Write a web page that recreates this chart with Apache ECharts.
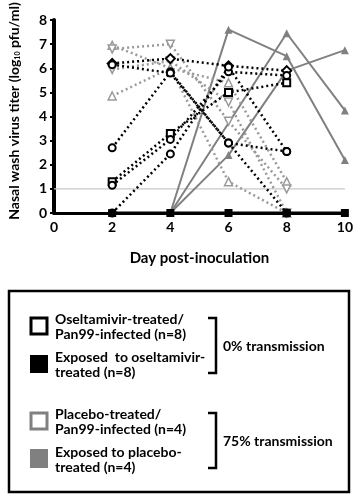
<!DOCTYPE html>
<html>
<head>
<meta charset="utf-8">
<script src="https://cdn.jsdelivr.net/npm/echarts@6/dist/echarts.min.js"></script>
<style>
  html, body { margin: 0; padding: 0; background: #fff; }
  #chart { width: 356px; height: 495px; }
</style>
</head>
<body>
<div id="chart"></div>
<script>
// days sampled
const days = [2, 4, 6, 8, 10];
const xTicks = [0, 2, 4, 6, 8, 10];

// oseltamivir-treated / Pan99-infected (dotted black, open markers)
const treated1 = [6.2, 6.4, 6.1, 5.9, null];
const treated2 = [2.7, 5.85, 2.9, 2.55, null];
const treated3 = [6.15, 5.8, 2.9, 0, null];
const treated4 = [1.3, 3.3, 5.0, 5.4, null];
const treated5 = [1.15, 3.05, 5.85, 5.7, null];
const treated6 = [0, 2.45, 6.05, 2.55, null];

// exposed to oseltamivir-treated (all negative)
const exposedOsel = [0, 0, 0, 0, 0];

// placebo-treated / Pan99-infected (dotted grey, triangles)
const placebo1 = [6.95, 6.0, 5.4, 1.3, null];
const placebo2 = [6.8, 7.0, 3.8, 1.0, null];
const placebo3 = [5.95, 6.3, 4.6, 0, null];
const placebo4 = [4.85, 6.0, 1.3, 0, null];

// exposed to placebo-treated (solid grey)
const exposedPlc1 = [null, 0, 7.6, 6.5, 2.2];
const exposedPlc2 = [null, 0, null, 7.45, 4.25];
const exposedPlc3 = [null, 0, 2.4, 5.9, 6.75];

const detectionLimit = 1;

const FONT = 'Lato';
const BLACK = '#000';
const GREY = '#808080';
const LGREY = '#9a9a9a';

const toPoints = (arr, hideZeroAt4) =>
  days.map((d, i) => {
    if (arr[i] === null) return [d, null];
    if (hideZeroAt4 && d === 4 && arr[i] === 0) return { value: [d, 0], symbol: 'none' };
    return [d, arr[i]];
  });

const treatedSeries = (data, symbol) => ({
  type: 'line',
  data: toPoints(data),
  symbol,
  symbolSize: symbol === 'diamond' ? 9 : 7,
  z: 4,
  lineStyle: { color: BLACK, width: 2.5, type: [2, 3] },
  itemStyle: { color: '#fff', borderColor: BLACK, borderWidth: 2 }
});

const placeboSeries = (data, rotate) => ({
  type: 'line',
  data: toPoints(data),
  symbol: 'triangle',
  symbolRotate: rotate,
  symbolSize: 8,
  z: 3,
  lineStyle: { color: LGREY, width: 2.5, type: [2, 3] },
  itemStyle: { color: '#fff', borderColor: LGREY, borderWidth: 1.5 }
});

const exposedPlcSeries = (data) => ({
  type: 'line',
  data: toPoints(data, true),
  connectNulls: true,
  symbol: 'triangle',
  symbolSize: 8,
  z: 2,
  lineStyle: { color: GREY, width: 2 },
  itemStyle: { color: GREY }
});

const legendText = {
  fontFamily: FONT,
  fontWeight: 'bold',
  fontSize: 14,
  fill: '#000',
  lineHeight: 15
};

const option = {
  animation: false,
  grid: { left: 54, right: 8, top: 20, bottom: 282 },
  xAxis: {
    type: 'value',
    min: 0,
    max: 10,
    interval: 2,
    name: 'Day post-inoculation',
    nameLocation: 'middle',
    nameGap: 38,
    nameTextStyle: { fontFamily: FONT, fontWeight: 'bold', fontSize: 15, color: '#000' },
    axisLine: { lineStyle: { color: BLACK, width: 3 } },
    axisTick: { show: false },
    splitLine: { show: false },
    axisLabel: {
      fontFamily: FONT, fontWeight: 'bold', fontSize: 14, color: '#000', margin: 7,
      showMaxLabel: true,
      formatter: (v) => (xTicks.includes(v) ? String(v) : '')
    }
  },
  yAxis: {
    type: 'value',
    min: 0,
    max: 8,
    interval: 1,
    axisLine: { show: true, lineStyle: { color: BLACK, width: 4 } },
    axisTick: { show: true, length: 4, lineStyle: { color: BLACK, width: 2 } },
    splitLine: { show: false },
    axisLabel: {
      fontFamily: FONT, fontWeight: 'bold', fontSize: 14, color: '#000', margin: 7,
      showMaxLabel: true
    }
  },
  series: [
    {
      type: 'line',
      data: [[0, detectionLimit], [10, detectionLimit]],
      symbol: 'none',
      z: 1,
      lineStyle: { color: '#c8c8c8', width: 1.2 },
      silent: true
    },
    exposedPlcSeries(exposedPlc1),
    exposedPlcSeries(exposedPlc2),
    exposedPlcSeries(exposedPlc3),
    placeboSeries(placebo1, 0),
    placeboSeries(placebo2, 180),
    placeboSeries(placebo3, 180),
    placeboSeries(placebo4, 0),
    treatedSeries(treated1, 'diamond'),
    treatedSeries(treated2, 'circle'),
    treatedSeries(treated3, 'circle'),
    treatedSeries(treated4, 'rect'),
    treatedSeries(treated5, 'circle'),
    treatedSeries(treated6, 'circle'),
    {
      type: 'line',
      data: toPoints(exposedOsel),
      symbol: 'rect',
      symbolSize: 8,
      z: 5,
      lineStyle: { color: BLACK, width: 3 },
      itemStyle: { color: BLACK }
    }
  ],
  graphic: [
    // y-axis title with subscript
    {
      type: 'text', x: 14, y: 111, rotation: Math.PI / 2,
      style: {
        text: '{n|Nasal wash virus titer (log}{s|10}{n| pfu/ml)}',
        align: 'center', verticalAlign: 'middle',
        rich: {
          n: { fontFamily: FONT, fontWeight: 'bold', fontSize: 14, fill: '#000' },
          s: { fontFamily: FONT, fontWeight: 'bold', fontSize: 7, fill: '#000', padding: [7, 0, 0, 0] }
        }
      }
    },

    { type: 'rect', shape: { x: 9, y: 291, width: 340, height: 201 }, style: { fill: 'none', stroke: '#000', lineWidth: 2.5 } },

    { type: 'rect', shape: { x: 31, y: 318, width: 16, height: 16 }, style: { fill: '#fff', stroke: '#000', lineWidth: 3 } },
    { type: 'text', x: 55, y: 312, style: { ...legendText, text: 'Oseltamivir-treated/\nPan99-infected (n=8)' } },
    { type: 'rect', shape: { x: 30, y: 355, width: 18, height: 18 }, style: { fill: '#000' } },
    { type: 'text', x: 55, y: 350, style: { ...legendText, text: 'Exposed  to oseltamivir-\ntreated (n=8)' } },
    { type: 'polyline', shape: { points: [[208, 318], [216, 318], [216, 373], [208, 373]] }, style: { fill: 'none', stroke: '#000', lineWidth: 2.5 } },
    { type: 'text', x: 223, y: 339, style: { ...legendText, text: '0% transmission' } },

    { type: 'rect', shape: { x: 31, y: 413, width: 16, height: 16 }, style: { fill: '#fff', stroke: GREY, lineWidth: 3 } },
    { type: 'text', x: 55, y: 407, style: { ...legendText, text: 'Placebo-treated/\nPan99-infected (n=4)' } },
    { type: 'rect', shape: { x: 30, y: 449, width: 18, height: 19 }, style: { fill: GREY } },
    { type: 'text', x: 55, y: 445, style: { ...legendText, text: 'Exposed to placebo-\ntreated (n=4)' } },
    { type: 'polyline', shape: { points: [[208, 413], [216, 413], [216, 468], [208, 468]] }, style: { fill: 'none', stroke: '#000', lineWidth: 2.5 } },
    { type: 'text', x: 223, y: 434, style: { ...legendText, text: '75% transmission' } }
  ]
};

const chart = echarts.init(document.getElementById('chart'));
chart.setOption(option);
</script>
</body>
</html>
